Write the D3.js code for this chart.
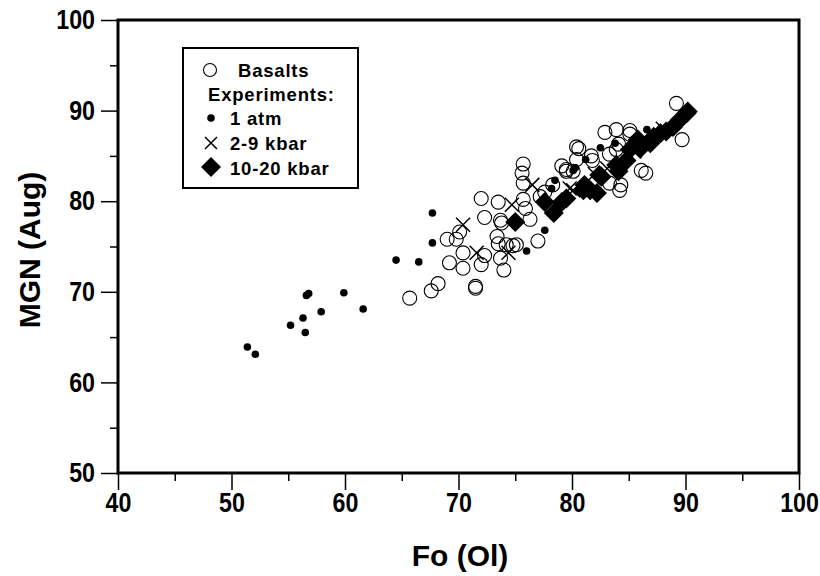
<!DOCTYPE html>
<html>
<head>
<meta charset="utf-8">
<script src="https://cdn.jsdelivr.net/npm/d3@7"></script>
<style>
  body { margin: 0; background: #fff; }
  svg text { font-family: "Liberation Sans", Arial, sans-serif; font-weight: bold; fill: #000; }
</style>
</head>
<body>
<div id="chart"></div>
<script>
// [Fo (Ol), MGN (Aug)]
const basalts = [
  [65.7, 69.3], [67.6, 70.1], [68.2, 70.9], [69.2, 73.2], [70.4, 72.6], [70.4, 74.3],
  [69.0, 75.8], [69.8, 75.8], [70.1, 76.6], [71.5, 70.6], [71.5, 70.4], [72.0, 73.0],
  [72.3, 74.0], [73.7, 73.7], [74.0, 72.4], [72.0, 80.3], [73.5, 79.9], [72.3, 78.2],
  [73.7, 77.9], [73.8, 77.6], [73.4, 76.1], [73.5, 75.3], [74.2, 75.2], [74.8, 75.1],
  [75.1, 75.2], [76.3, 78.0], [75.7, 80.2], [75.9, 79.2], [75.7, 82.0], [75.6, 83.1],
  [75.7, 84.1], [77.0, 75.6], [79.5, 83.3], [89.2, 90.8], [89.7, 86.8], [83.9, 87.9],
  [85.1, 87.8], [85.1, 87.4], [84.1, 86.3], [83.9, 85.7], [83.3, 85.2], [80.6, 85.8],
  [80.4, 84.6], [81.7, 85.0], [81.8, 84.5], [79.1, 83.9], [79.5, 83.5], [86.1, 83.4],
  [86.5, 83.1], [83.3, 82.0], [84.3, 81.8], [84.2, 81.2], [82.9, 87.6], [80.1, 83.3],
  [77.2, 80.5], [78.3, 81.8], [77.6, 81.0], [80.4, 86.0]
];
const oneAtm = [
  [51.4, 63.9], [52.1, 63.1], [55.2, 66.3], [56.3, 67.1], [56.5, 65.5], [56.6, 69.6],
  [56.8, 69.8], [57.9, 67.8], [59.9, 69.9], [61.6, 68.1], [64.5, 73.5], [66.5, 73.3],
  [67.7, 78.7], [67.7, 75.4], [77.6, 76.8], [76.0, 74.5], [78.5, 82.3], [78.2, 81.4],
  [80.1, 83.4], [82.5, 85.9], [86.6, 87.9], [80.3, 83.7], [81.2, 84.6], [79.2, 80.3],
  [83.8, 86.4], [85.5, 86.6]
];
const kbar2to9 = [
  [70.4, 77.4], [71.6, 74.3], [74.4, 74.3], [74.7, 79.6], [80.1, 81.2], [79.8, 81.4],
  [83.1, 83.6], [76.5, 81.8], [82.0, 83.0], [85.5, 85.5], [88.0, 88.0]
];
const kbar10to20 = [
  [75.0, 77.7], [77.6, 79.9], [78.4, 78.7], [79.5, 80.3], [79.1, 79.9], [81.0, 81.2],
  [81.6, 81.2], [81.1, 81.8], [82.4, 82.9], [82.6, 82.7], [82.2, 80.9], [83.9, 84.0],
  [84.1, 83.3], [84.8, 84.5], [85.1, 85.7], [85.8, 86.8], [86.0, 85.8], [86.9, 86.4],
  [87.2, 87.1], [87.8, 87.5], [88.3, 87.7], [88.9, 88.2], [89.5, 89.0], [90.1, 89.7],
  [90.2, 89.9]
];
const xTicks = d3.range(40, 101, 5);
const yTicks = d3.range(50, 101, 5);
const legendItems = ["Basalts", "Experiments:", "1 atm", "2-9 kbar", "10-20 kbar"];

const width = 820, height = 576;
const margin = { left: 118, top: 20, right: 21, bottom: 103 };
const narrow = 0.86; // squeeze tick labels to look like a condensed face

const svg = d3.select("#chart").append("svg")
  .attr("width", width)
  .attr("height", height);

const x = d3.scaleLinear().domain([40, 100]).range([margin.left, width - margin.right]);
const y = d3.scaleLinear().domain([50, 100]).range([height - margin.bottom, margin.top]);

// axes (major ticks longer, labels every 10)
const major = d => d % 10 === 0;
const xAxis = svg.append("g")
  .attr("transform", `translate(0,${y(50)})`)
  .call(d3.axisBottom(x).tickValues(xTicks).tickSizeOuter(0)
    .tickFormat(d => major(d) ? d : ""));
xAxis.selectAll(".tick line").attr("y2", d => major(d) ? 17 : 8);
xAxis.selectAll(".tick text")
  .attr("y", 20)
  .attr("transform", `scale(${narrow},1)`)
  .style("font-size", "27px");

const yAxis = svg.append("g")
  .attr("transform", `translate(${x(40)},0)`)
  .call(d3.axisLeft(y).tickValues(yTicks).tickSizeOuter(0)
    .tickFormat(d => major(d) ? d : ""));
yAxis.selectAll(".tick line").attr("x2", d => major(d) ? -17 : -8);
yAxis.selectAll(".tick text")
  .attr("x", -23 / narrow)
  .attr("transform", `scale(${narrow},1)`)
  .style("font-size", "27px");
svg.selectAll(".domain").remove();
svg.selectAll(".tick line").attr("stroke", "#000").attr("stroke-width", 1.5);

// frame
svg.append("rect")
  .attr("x", x(40)).attr("y", y(100))
  .attr("width", x(100) - x(40)).attr("height", y(50) - y(100))
  .attr("fill", "none").attr("stroke", "#000").attr("stroke-width", 3);

// titles
svg.append("text")
  .attr("x", 460).attr("y", 566)
  .attr("text-anchor", "middle")
  .style("font-size", "30px")
  .text("Fo (Ol)");
svg.append("text")
  .attr("transform", "translate(40,250) rotate(-90)")
  .attr("text-anchor", "middle")
  .style("font-size", "30px")
  .text("MGN (Aug)");

// marks
const diamond = d3.symbol().type(d3.symbolSquare).size(200);
const plot = svg.append("g");

plot.selectAll(".d20").data(kbar10to20).join("path")
  .attr("class", "d20")
  .attr("d", diamond)
  .attr("transform", d => `translate(${x(d[0])},${y(d[1])}) rotate(45)`)
  .attr("fill", "#000");

plot.selectAll(".k9").data(kbar2to9).join("path")
  .attr("class", "k9")
  .attr("d", "M-7,-7L7,7M-7,7L7,-7")
  .attr("transform", d => `translate(${x(d[0])},${y(d[1])})`)
  .attr("stroke", "#000").attr("stroke-width", 1.5);

plot.selectAll(".bas").data(basalts).join("circle")
  .attr("class", "bas")
  .attr("cx", d => x(d[0])).attr("cy", d => y(d[1]))
  .attr("r", 7)
  .attr("fill", "none").attr("stroke", "#000").attr("stroke-width", 1.1);

plot.selectAll(".atm").data(oneAtm).join("circle")
  .attr("class", "atm")
  .attr("cx", d => x(d[0])).attr("cy", d => y(d[1]))
  .attr("r", 3.8)
  .attr("fill", "#000");

// legend
const legend = svg.append("g").attr("class", "legend");
legend.append("rect")
  .attr("x", 183).attr("y", 48).attr("width", 175).attr("height", 140)
  .attr("fill", "#fff").attr("stroke", "#000").attr("stroke-width", 2);

const rows = [
  { label: legendItems[0], tx: 238, ty: 77 },
  { label: legendItems[1], tx: 208, ty: 101 },
  { label: legendItems[2], tx: 230, ty: 125 },
  { label: legendItems[3], tx: 230, ty: 150 },
  { label: legendItems[4], tx: 230, ty: 175 }
];
legend.selectAll("text").data(rows).join("text")
  .attr("x", d => d.tx).attr("y", d => d.ty)
  .style("font-size", "18.5px")
  .style("letter-spacing", "0.8px")
  .text(d => d.label);

legend.append("circle").attr("cx", 210).attr("cy", 70).attr("r", 6.5)
  .attr("fill", "none").attr("stroke", "#000").attr("stroke-width", 1.1);
legend.append("circle").attr("cx", 211).attr("cy", 118).attr("r", 3.8).attr("fill", "#000");
legend.append("path").attr("d", "M-6,-6L6,6M-6,6L6,-6")
  .attr("transform", "translate(211,143)")
  .attr("stroke", "#000").attr("stroke-width", 1.5);
legend.append("path").attr("d", diamond)
  .attr("transform", "translate(211,167) rotate(45)")
  .attr("fill", "#000");
</script>
</body>
</html>
